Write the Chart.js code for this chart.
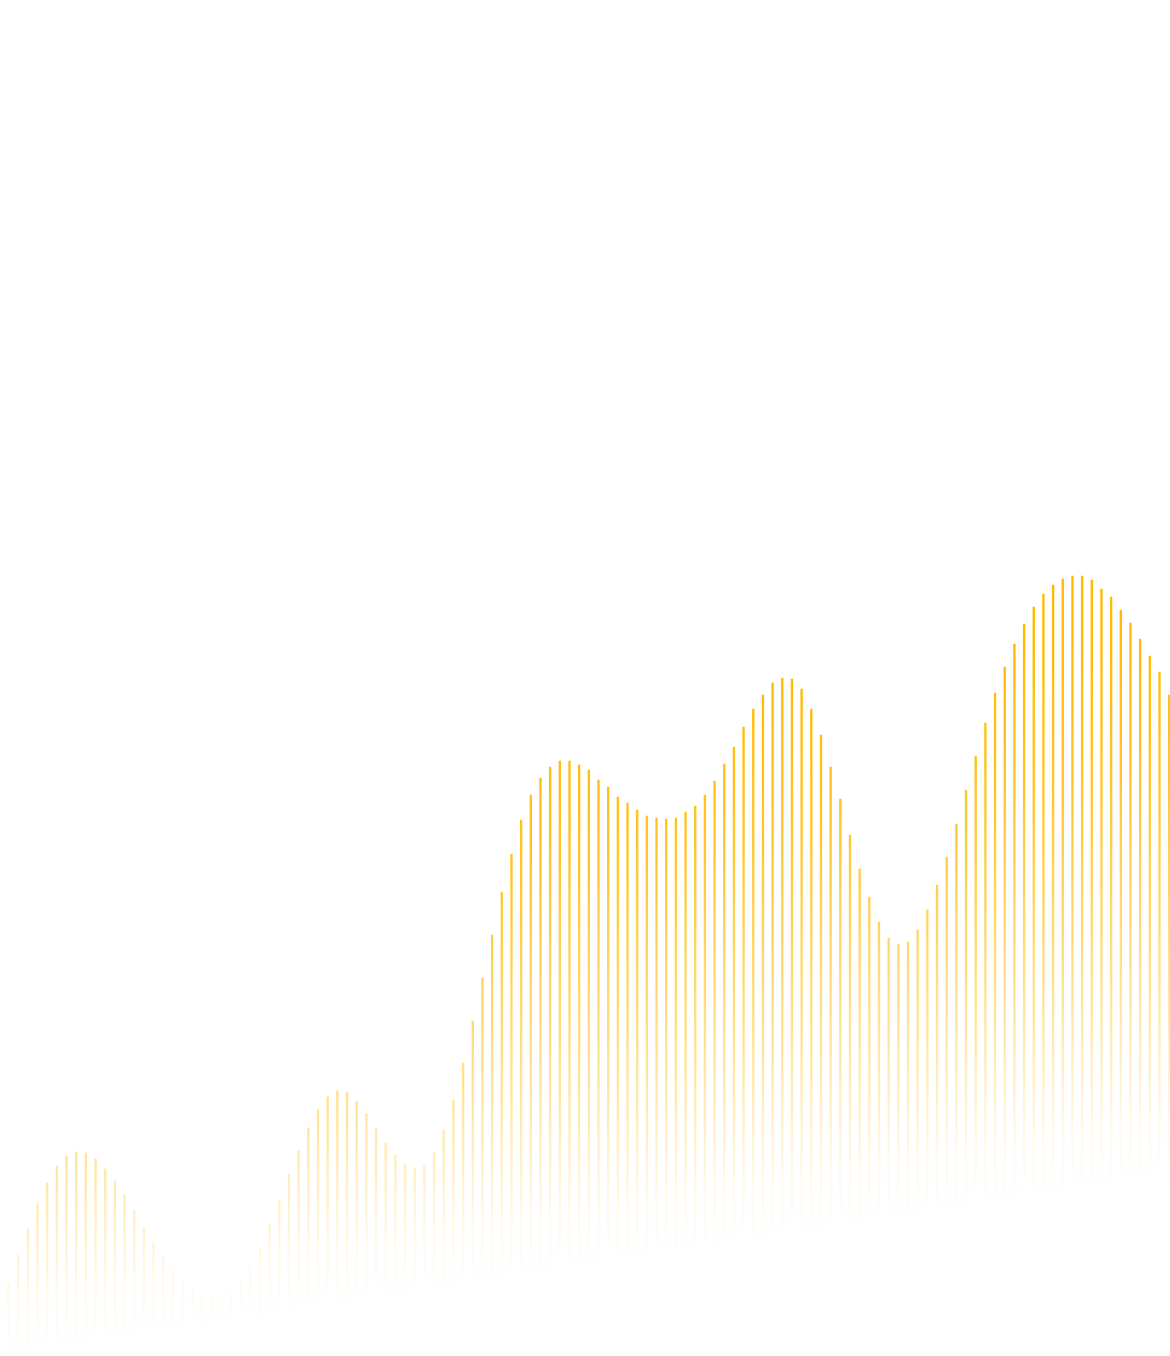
<!DOCTYPE html>
<html>
<head>
<meta charset="utf-8">
<script src="https://cdn.jsdelivr.net/npm/chart.js@4/dist/chart.umd.min.js"></script>
<style>
    html, body { margin: 0; padding: 0; background: #fff; overflow: hidden; }
    #wrap { position: absolute; left: -6px; top: 0; width: 1180px; height: 1356px; }
</style>
</head>
<body>
<div id="wrap"><canvas id="barChart" width="1180" height="1356"></canvas></div>
<script>
    // heights of bar tops, in px above the bottom edge
    var tops = [48, 73, 101, 127, 152, 173, 190, 200, 204, 203,
        197, 187, 175, 161, 145, 129, 113, 99, 86, 76,
        66, 61, 59, 59, 64, 74, 89, 108, 132, 155,
        182, 205, 228, 246, 259, 265, 264, 255, 242, 227,
        213, 201, 192, 188, 191, 204, 226, 256, 293, 335,
        378, 421, 464, 502, 536, 561, 578, 589, 595, 595,
        591, 586, 576, 569, 559, 553, 546, 540, 538, 537,
        538, 544, 550, 561, 575, 592, 609, 629, 647, 661,
        673, 678, 677, 667, 647, 621, 589, 557, 521, 487,
        459, 434, 418, 412, 414, 426, 446, 471, 499, 532,
        566, 600, 633, 663, 689, 712, 732, 749, 762, 771,
        777, 780, 780, 776, 767, 759, 746, 733, 717, 700,
        684, 661];

    // where each bar fades out (bottom of the floating bar)
    var bases = [-12, -11, -9, -8, -6, -5, -3, -2, 0, 1,
        3, 4, 6, 7, 9, 10, 12, 13, 15, 16,
        18, 19, 21, 22, 24, 25, 27, 29, 30, 32,
        33, 35, 36, 38, 39, 41, 42, 44, 45, 47,
        48, 50, 51, 53, 54, 56, 57, 59, 60, 62,
        63, 65, 66, 68, 69, 71, 72, 74, 75, 77,
        78, 80, 81, 83, 84, 86, 87, 89, 90, 92,
        93, 95, 96, 98, 99, 101, 102, 104, 105, 107,
        108, 110, 111, 113, 114, 116, 117, 119, 121, 122,
        124, 125, 127, 128, 130, 131, 133, 134, 136, 137,
        139, 140, 142, 143, 145, 146, 148, 149, 151, 152,
        154, 155, 157, 158, 160, 161, 163, 164, 166, 167,
        169, 170];

    var labels = tops.map(function (v, i) { return String(i + 1); });
    var barData = tops.map(function (v, i) { return [bases[i], v]; });

    var gold = '255, 187, 0';

    function barColor(ctx) {
        var chart = ctx.chart;
        if (!chart.chartArea || !chart.scales.y) return 'rgba(' + gold + ', 0.6)';
        var y0 = chart.scales.y.getPixelForValue(bases[ctx.dataIndex]);
        var g = chart.ctx.createLinearGradient(0, y0, 0, y0 - 560);
        g.addColorStop(0, 'rgba(' + gold + ', 0)');
        g.addColorStop(0.12, 'rgba(' + gold + ', 0.08)');
        g.addColorStop(0.4, 'rgba(' + gold + ', 0.45)');
        g.addColorStop(0.75, 'rgba(' + gold + ', 0.85)');
        g.addColorStop(1, 'rgba(' + gold + ', 1)');
        return g;
    }

    var ctx2 = document.getElementById("barChart").getContext("2d");
    new Chart(ctx2, {
        type: 'bar',
        data: {
            labels: labels,
            datasets: [{
                data: barData,
                backgroundColor: barColor,
                borderWidth: 0,
                barThickness: 1.7
            }]
        },
        options: {
            responsive: false,
            animation: false,
            layout: { padding: 0 },
            plugins: { legend: { display: false }, tooltip: { enabled: false } },
            scales: {
                x: { display: false },
                y: { display: false, min: 0, max: 1356 }
            }
        }
    });
</script>
</body>
</html>
